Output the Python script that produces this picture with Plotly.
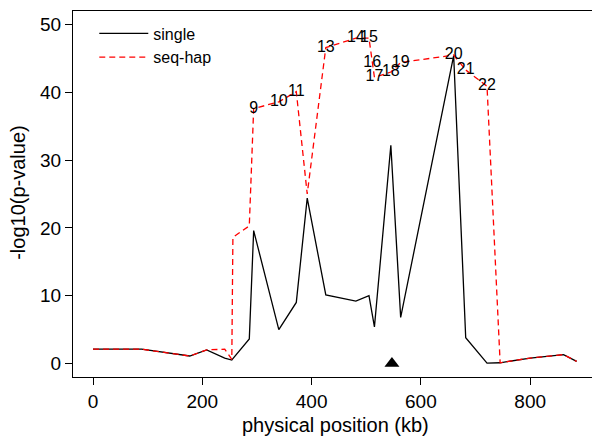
import plotly.graph_objects as go

# SNP positions (kb)
positions = [0, 89, 177, 208, 241, 254, 256, 286, 294, 340, 372, 392, 426,
             481, 505, 511, 515, 545, 563, 660, 682, 721, 745, 800, 861, 885]
single = [2.1, 2.1, 1.1, 2.0, 0.8, 0.5, 0.7, 3.6, 19.6, 5.0, 9.0, 24.4, 10.1,
          9.2, 10.0, 7.0, 5.4, 32.2, 6.8, 45.4, 3.8, 0.05, 0.1, 0.8, 1.3, 0.3]
seqhap = [2.1, 2.1, 1.1, 2.0, 2.1, 0.6, 18.6, 20.3, 37.6, 38.6, 40.1, 25.0, 46.6,
          48.0, 48.0, 44.4, 42.2, 43.0, 44.4, 45.5, 43.3, 40.9, 0.1, 0.8, 1.3, 0.3]
snp_labels = ["", "", "", "", "", "", "", "", "9", "10", "11", "", "13",
              "14", "15", "16", "17", "18", "19", "20", "21", "22", "", "", "", ""]
locus_x = [547]
locus_y = [0]

xticks = [0, 200, 400, 600, 800]
yticks = [0, 10, 20, 30, 40, 50]

FONT = "Liberation Sans, Arial, Helvetica, sans-serif"

fig = go.Figure()
fig.add_trace(go.Scatter(x=positions, y=single, mode="lines", name="single",
                         line=dict(color="black", width=1.3)))
fig.add_trace(go.Scatter(x=positions, y=seqhap, mode="lines", name="seq-hap",
                         line=dict(color="#ff0000", width=1.3, dash="6px,4px")))
lab_x = [p for p, l in zip(positions, snp_labels) if l]
lab_y = [v for v, l in zip(seqhap, snp_labels) if l]
lab_t = [l for l in snp_labels if l]
fig.add_trace(go.Scatter(x=lab_x, y=lab_y, mode="text", text=lab_t,
                         textposition="middle center", showlegend=False,
                         textfont=dict(family=FONT, size=16, color="black")))
fig.add_trace(go.Scatter(x=locus_x, y=locus_y, mode="markers", showlegend=False,
                         marker=dict(symbol="triangle-up", size=13, color="black")))

fig.update_layout(
    width=592, height=436,
    margin=dict(l=73, r=0, t=11, b=59),
    paper_bgcolor="white", plot_bgcolor="white",
    font=dict(family=FONT, color="black"),
    showlegend=True,
    legend=dict(x=0.041, y=0.985, xanchor="left", yanchor="top",
                bgcolor="rgba(0,0,0,0)", font=dict(size=16, family=FONT),
                tracegroupgap=0, itemwidth=49),
    xaxis=dict(range=[-36.6, 913.1], tickvals=xticks, ticks="outside", ticklen=7,
               tickcolor="black", showline=True, linecolor="black", linewidth=1,
               mirror=True, showgrid=False, zeroline=False,
               tickfont=dict(size=19, family=FONT)),
    yaxis=dict(range=[-2, 52], tickvals=yticks, ticks="outside", ticklen=7,
               tickcolor="black", showline=True, linecolor="black", linewidth=1,
               showgrid=False, zeroline=False,
               tickfont=dict(size=19, family=FONT)),
    annotations=[
        dict(text="physical position (kb)", xref="paper", yref="paper",
             x=0.505, y=-0.131, xanchor="center", yanchor="middle",
             showarrow=False, font=dict(size=20, family=FONT)),
        dict(text="-log10(p-value)", xref="paper", yref="paper",
             x=-0.106, y=0.506, xanchor="center", yanchor="middle",
             textangle=-90, showarrow=False, font=dict(size=20, family=FONT)),
    ],
)

fig.write_html("out.html", config={"displayModeBar": False},
               post_script="document.body.style.margin='0';document.body.style.overflow='hidden';")
